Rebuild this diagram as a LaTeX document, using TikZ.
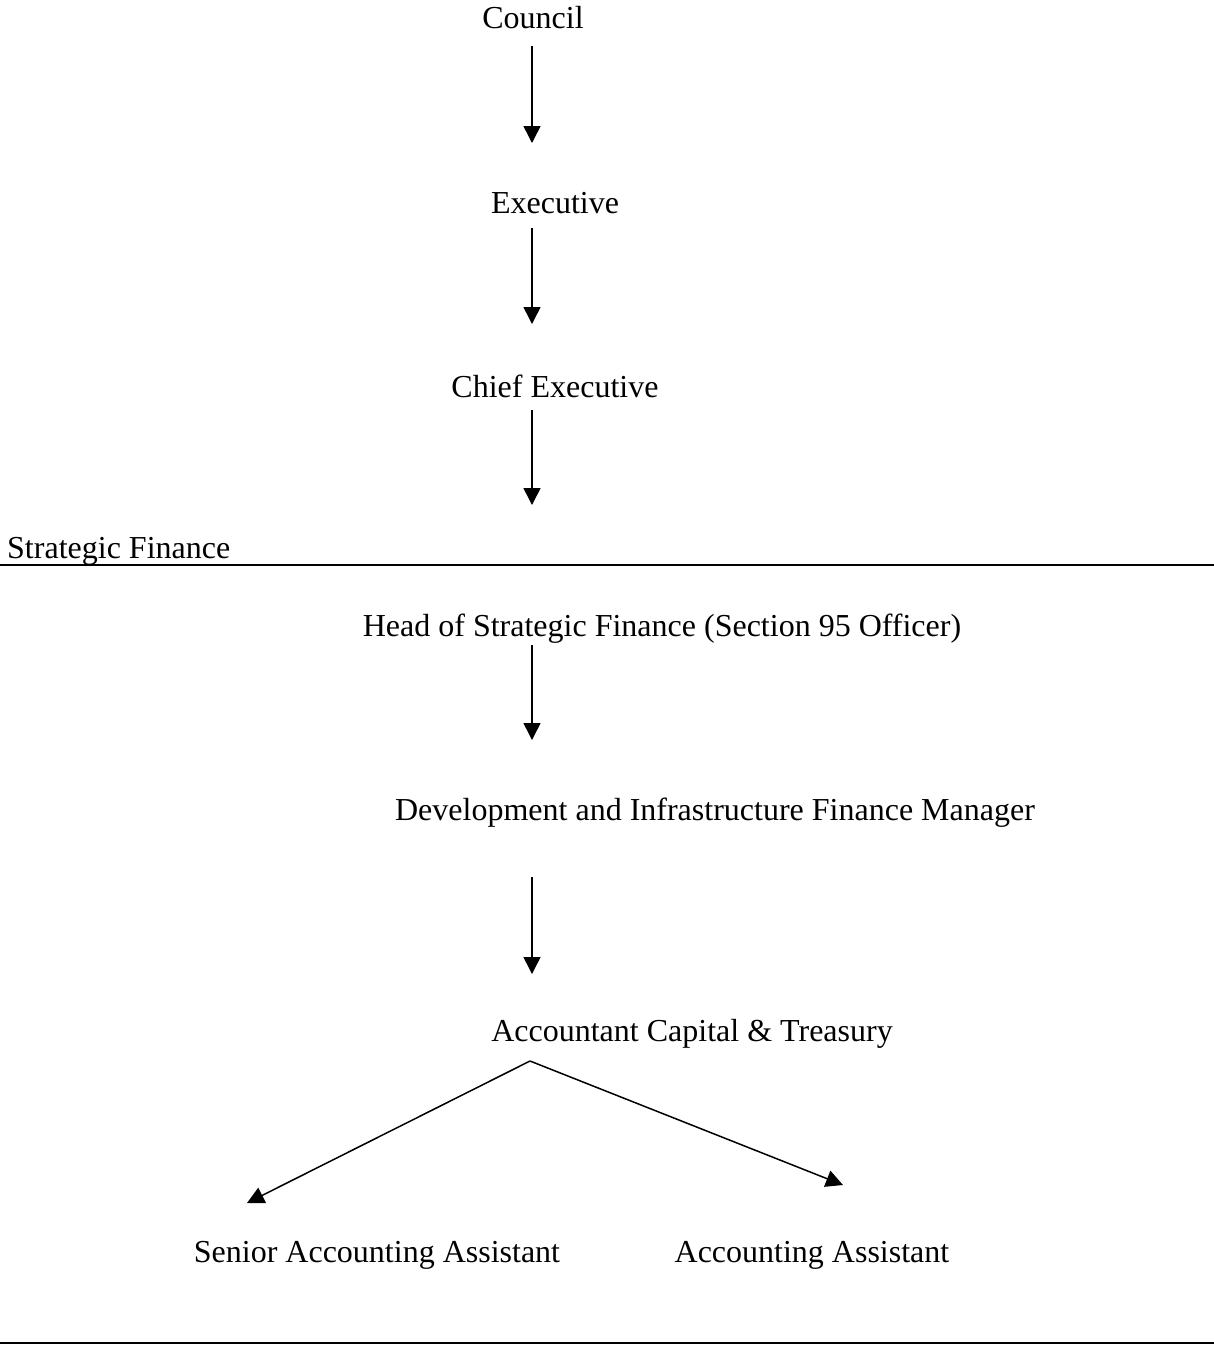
\documentclass[tikz,border=0pt]{standalone}
\usepackage{fontspec}
\setmainfont{Liberation Serif}
\usetikzlibrary{arrows.meta}
\begin{document}
\begin{tikzpicture}[x=1pt,y=-1pt,
  lbl/.style={anchor=base,inner sep=0pt,font=\fontsize{32}{38}\selectfont},
  arr/.style={line width=1.5pt,-{Triangle[length=17pt,width=17pt]}},
  rule/.style={line width=2pt}]
\useasboundingbox (0,0) rectangle (1214,1345);
\node[lbl] (council) at (533,28) {Council};
\node[lbl] (exec) at (555,213) {Executive};
\node[lbl] (chief) at (555,397) {Chief Executive};
\node[lbl,anchor=base west] (sf) at (7,558) {Strategic Finance};
\node[lbl] (head) at (662,636) {Head of Strategic Finance (Section 95 Officer)};
\node[lbl] (dev) at (715,820) {Development and Infrastructure Finance Manager};
\node[lbl] (acct) at (692,1041) {Accountant Capital \& Treasury};
\node[lbl] (senior) at (377,1262) {Senior Accounting Assistant};
\node[lbl] (assist) at (812,1262) {Accounting Assistant};
\coordinate (a1s) at (532,46);  \coordinate (a1e) at (532,143);
\coordinate (a2s) at (532,228); \coordinate (a2e) at (532,324);
\coordinate (a3s) at (532,410); \coordinate (a3e) at (532,505);
\coordinate (a4s) at (532,645); \coordinate (a4e) at (532,740);
\coordinate (a5s) at (532,877); \coordinate (a5e) at (532,974);
\coordinate (fork) at (530,1061);
\coordinate (le) at (247,1203);
\coordinate (re) at (843,1185);
\coordinate (l1a) at (0,565); \coordinate (l1b) at (1214,565);
\coordinate (l2a) at (0,1343); \coordinate (l2b) at (1214,1343);
\draw[arr] (a1s) -- (a1e);
\draw[arr] (a2s) -- (a2e);
\draw[arr] (a3s) -- (a3e);
\draw[arr] (a4s) -- (a4e);
\draw[arr] (a5s) -- (a5e);
\draw[arr] (fork) -- (le);
\draw[arr] (fork) -- (re);
\draw[rule] (l1a) -- (l1b);
\draw[rule] (l2a) -- (l2b);
\end{tikzpicture}
\end{document}
